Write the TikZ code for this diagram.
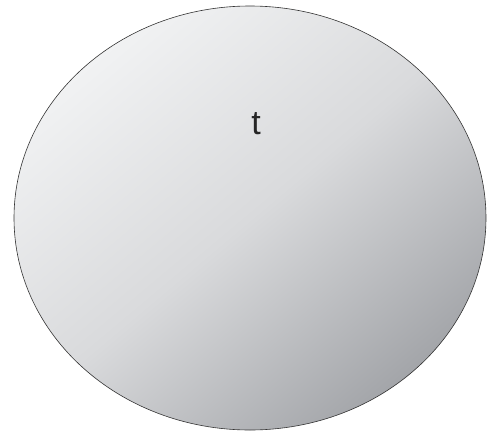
\documentclass[tikz,border=0pt]{standalone}
\usepackage{fontspec}
\setmainfont{Liberation Sans}
\usetikzlibrary{shapes.geometric}
\definecolor{shadelight}{HTML}{F1F2F3}
\definecolor{shademid}{HTML}{D9DADC}
\definecolor{shadedark}{HTML}{A3A5A9}
\tikzset{
  setbox/.style={ellipse, draw=black!80, line width=0.6pt,
    top color=shadelight, bottom color=shadedark, middle color=shademid,
    shading angle=40, minimum width=472pt, minimum height=424pt, inner sep=0pt},
  setname/.style={font=\fontsize{34}{38}\selectfont, text=black!85}
}
\begin{document}
\begin{tikzpicture}[x=1pt,y=-1pt]
\useasboundingbox (0,0) rectangle (488,432);
% the set and its name
\node[setbox] (blob) at (250,218) {};
\node[setname] (name) at (256,124) {t};
\end{tikzpicture}
\end{document}
